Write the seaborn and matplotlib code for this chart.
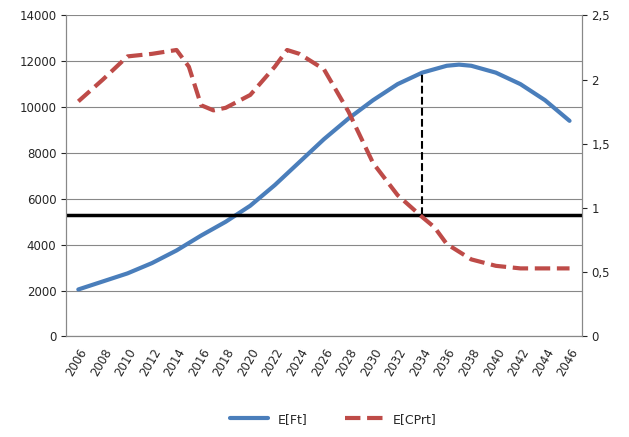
import matplotlib
matplotlib.use('Agg')
import matplotlib.pyplot as plt
import seaborn as sns
import pandas as pd

sns.set_style('white')
plt.rcParams['font.family'] = ['DejaVu Sans']

ft_years = [2006, 2008, 2010, 2012, 2014, 2016, 2018, 2020, 2022, 2024, 2026, 2028,
            2030, 2032, 2034, 2036, 2037, 2038, 2040, 2042, 2044, 2046]
ft_values = [2050, 2400, 2750, 3200, 3750, 4400, 5000, 5700, 6600, 7600, 8600, 9500,
             10300, 11000, 11500, 11800, 11850, 11800, 11500, 11000, 10300, 9400]
cp_years = [2006, 2008, 2010, 2012, 2014, 2015, 2016, 2017, 2018, 2020, 2022, 2023,
            2024, 2026, 2028, 2030, 2032, 2034, 2035, 2036, 2038, 2040, 2042, 2044, 2046]
cp_values = [1.83, 2.0, 2.18, 2.2, 2.23, 2.1, 1.8, 1.76, 1.78, 1.88, 2.1, 2.23,
             2.2, 2.08, 1.75, 1.35, 1.1, 0.93, 0.85, 0.72, 0.6, 0.55, 0.53, 0.53, 0.53]
threshold = 5300
cross_year = 2034
cross_ft = 11500

ft = pd.DataFrame({'year': ft_years, 'v': ft_values})
cp = pd.DataFrame({'year': cp_years, 'v': cp_values})

fig, ax = plt.subplots(figsize=(6.29, 4.37), dpi=100)
fig.subplots_adjust(left=0.105, right=0.925, top=0.965, bottom=0.23)
ax2 = ax.twinx()

sns.lineplot(data=ft, x='year', y='v', ax=ax, color='#4a7ebb', lw=3, label='E[Ft]', legend=False)
sns.lineplot(data=cp, x='year', y='v', ax=ax2, color='#be4b48', lw=3, ls='--', label='E[CPrt]', legend=False)
ax.axhline(threshold, color='black', lw=2.5, zorder=5)
ax.plot([cross_year, cross_year], [threshold, cross_ft], color='black', ls='--', lw=1.5)

ax.set_xlim(2005, 2047)
ax.set_ylim(0, 14000)
ax2.set_ylim(0, 2.5)
ax.set_yticks(range(0, 14001, 2000))
ax2.set_yticks([0, 0.5, 1, 1.5, 2, 2.5])
ax2.set_yticklabels(['0', '0,5', '1', '1,5', '2', '2,5'])
ax.set_xticks(range(2006, 2047, 2))
ax.tick_params(axis='x', labelrotation=60, labelsize=8.5)
ax.tick_params(axis='y', labelsize=8.5)
ax2.tick_params(axis='y', labelsize=8.5)
for lab in ax.get_xticklabels():
    lab.set_ha('right'); lab.set_rotation_mode('anchor')
ax.grid(axis='y', color='#888888', lw=0.8)
ax.set_xlabel(''); ax.set_ylabel(''); ax2.set_ylabel('')
for a in (ax, ax2):
    for s in a.spines.values():
        s.set_color('#888888')
ax.spines['top'].set_visible(False); ax2.spines['top'].set_visible(False)

h1, l1 = ax.get_legend_handles_labels()
h2, l2 = ax2.get_legend_handles_labels()
fig.legend(h1 + h2, l1 + l2, loc='lower center', ncol=2, frameon=False,
           bbox_to_anchor=(0.53, 0.0), fontsize=9, handlelength=3, columnspacing=3)

plt.savefig('out.png')
